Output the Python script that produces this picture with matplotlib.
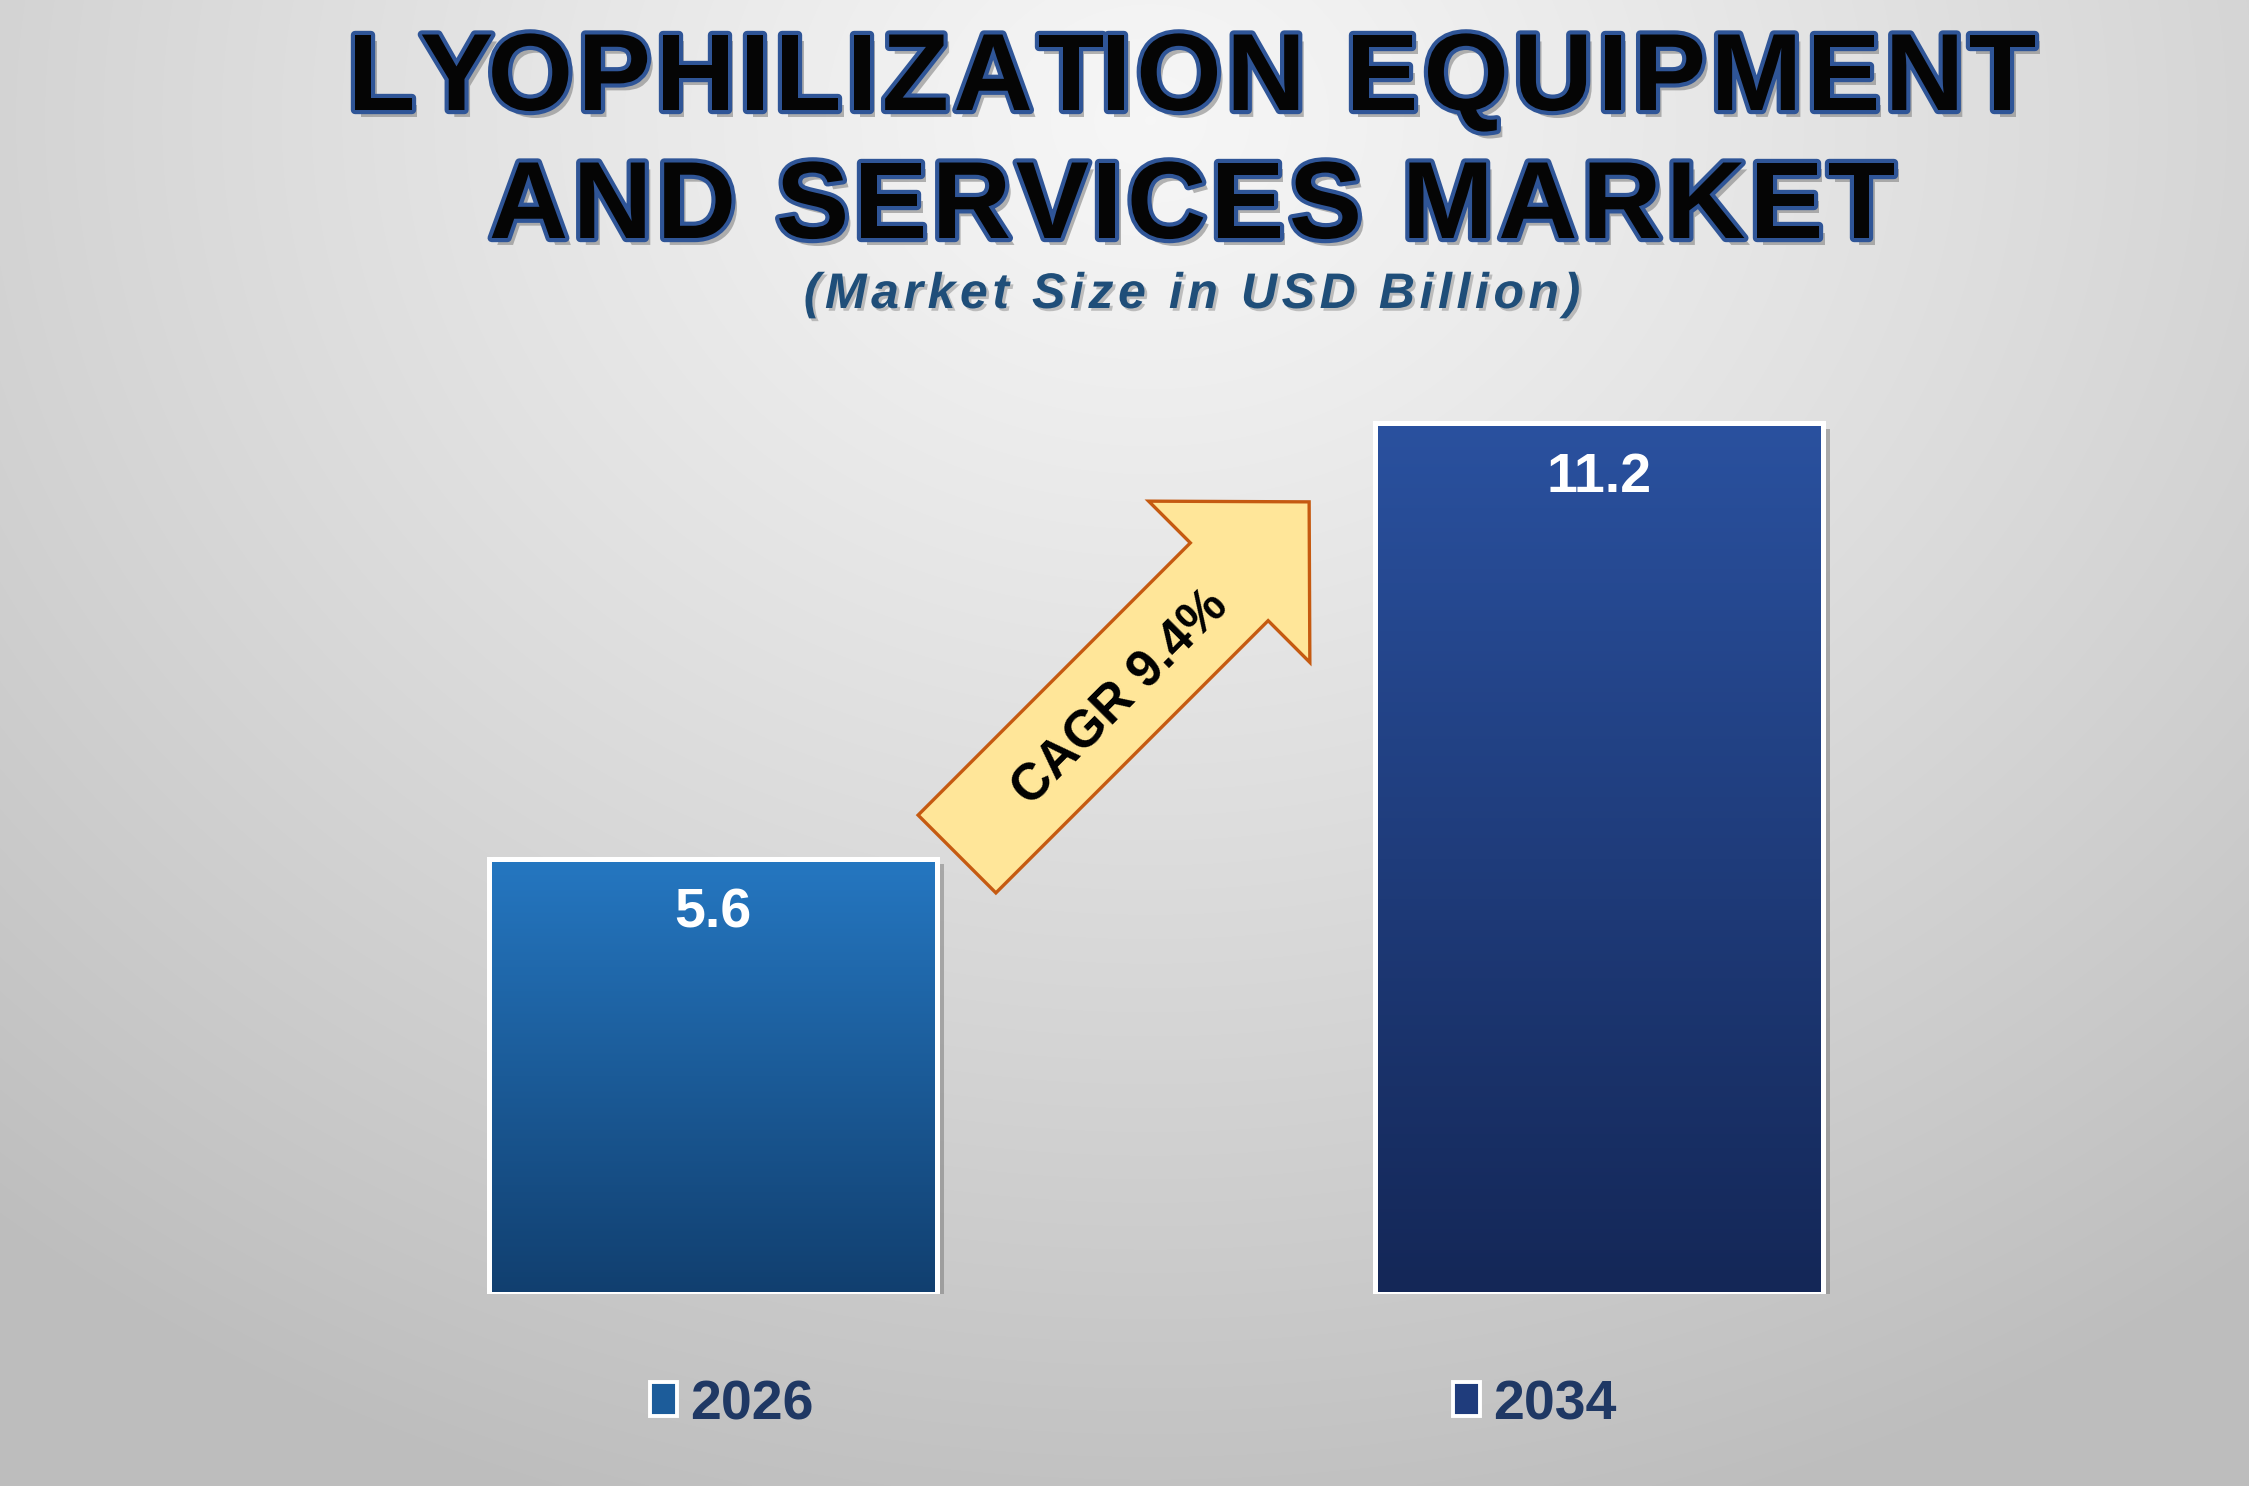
import numpy as np
import matplotlib
matplotlib.use('Agg')
import matplotlib.pyplot as plt
from matplotlib.patches import Polygon, Rectangle
from matplotlib.transforms import Affine2D
import matplotlib.patheffects as pe
from matplotlib.colors import LinearSegmentedColormap
from matplotlib.font_manager import FontProperties

# ---------------- data ----------------
years = ['2026', '2034']
values = [5.6, 11.2]
cagr_label = 'CAGR 9.4%'
title_lines = ['LYOPHILIZATION EQUIPMENT', 'AND SERVICES MARKET']
subtitle = '(Market Size in USD Billion)'

bar_top_colors = ['#2577C1', '#2A519F']
bar_bot_colors = ['#113F6F', '#142757']
bar_mid_colors = ['#1C5C9A', '#1F3C7C']

W, H = 2249, 1486
DPI = 100
FONT = 'Liberation Sans'
fig = plt.figure(figsize=(W / DPI, H / DPI), dpi=DPI)

# ---------------- background ----------------
bg = fig.add_axes([0, 0, 1, 1])
bg.axis('off')
yy, xx = np.mgrid[0:H, 0:W]
d = np.sqrt(((xx - 1150) / 1750.0) ** 2 + ((yy - 120) / 1450.0) ** 2)
d = np.clip(d, 0, 1)
v = 0.965 - (0.965 - 0.745) * d ** 1.15
bg.imshow(np.dstack([v, v, v]), extent=[0, 1, 0, 1], aspect='auto', zorder=0)
bg.set_xlim(0, 1)
bg.set_ylim(0, 1)

# ---------------- main axes ----------------
ax = fig.add_axes([270 / W, 1 - 1294 / H, 1772 / W, 0.628])
ax.set_facecolor('none')
ax.set_xlim(-0.5, 1.5)
ax.set_ylim(0, 12)
ax.axis('off')

x = np.arange(len(years))
bw = 0.505
shadow = [pe.SimplePatchShadow(offset=(5, -4), shadow_rgbFace='#6a6a6a', alpha=0.45), pe.Normal()]
bars = ax.bar(x, values, width=bw, color=bar_mid_colors, edgecolor='white',
              linewidth=3.6, zorder=2)
for b in bars:
    b.set_path_effects(shadow)

for b, ct, cb in zip(bars, bar_top_colors, bar_bot_colors):
    cmap = LinearSegmentedColormap.from_list('g', [cb, ct])
    grad = np.linspace(0, 1, 256).reshape(-1, 1)
    x0, w, h = b.get_x(), b.get_width(), b.get_height()
    im = ax.imshow(grad, extent=[x0, x0 + w, 0, h], origin='lower', aspect='auto',
                   cmap=cmap, zorder=2.5)
    im.set_clip_path(b)

ax.bar(x, values, width=bw, fill=False, edgecolor='white', linewidth=3.6, zorder=3)

for xi, val in zip(x, values):
    ax.annotate(f'{val}', xy=(xi, val), xytext=(0, -39.5), textcoords='offset points',
                ha='center', va='center', color='white', fontsize=40,
                fontweight='bold', family=FONT, zorder=4)

# ---------------- spaced text helper ----------------
renderer = fig.canvas.get_renderer()


def spaced_text(s, cx, ybase, prop, sp, color, effects):
    def tw(t):
        w, _, _ = renderer.get_text_width_height_descent(t, prop, ismath=False)
        return w
    ref = tw('|')
    pos = [0.0]
    for i in range(1, len(s)):
        pos.append(tw(s[:i] + '|') - ref + i * sp)
    total = pos[-1] + tw(s[-1])
    start = cx - total / 2
    for ch, p in zip(s, pos):
        if ch == ' ':
            continue
        fig.text((start + p) / W, 1 - ybase / H, ch, ha='left', va='baseline',
                 fontproperties=prop, color=color, path_effects=effects)


# ---------------- titles ----------------
title_fx = [pe.SimplePatchShadow(offset=(4, -5), shadow_rgbFace='#7a7a7a', alpha=0.55),
            pe.Stroke(linewidth=6, foreground='#2F5597'), pe.Normal()]
tprop = FontProperties(family=FONT, weight='bold', size=79)
for line, ybase in zip(title_lines, [110, 238]):
    spaced_text(line, 1192, ybase, tprop, 4.7, '#050505', title_fx)

sprop = FontProperties(family=FONT, weight='bold', style='italic', size=36)
sub_fx = [pe.SimplePatchShadow(offset=(2, -2), shadow_rgbFace='#8a8a8a', alpha=0.5), pe.Normal()]
spaced_text(subtitle, 1192, 308, sprop, 4.6, '#1F4E79', sub_fx)

# ---------------- CAGR arrow ----------------
L, hw, HW, HL = 385, 55, 114, 113
pts = [(0, -hw), (L, -hw), (L, -HW), (L + HL, 0), (L, HW), (L, hw), (0, hw)]
tr = Affine2D().rotate_deg(45).translate(957, H - 854)
arrow = Polygon(pts, closed=True, transform=tr, facecolor='#FFE699',
                edgecolor='#C55A11', linewidth=2.4, joinstyle='miter', zorder=5)
fig.add_artist(arrow)
tx, ty = tr.transform((226, -6))
fig.text(tx / W, ty / H, cagr_label, rotation=45, rotation_mode='anchor',
         ha='center', va='center', fontsize=37, fontweight='bold', family=FONT,
         color='black', zorder=6)

# ---------------- legend ----------------
handles = [Rectangle((0, 0), 1, 1, facecolor=c, edgecolor='white', linewidth=2.8)
           for c in bar_mid_colors]
leg = fig.legend(handles, years, loc='center', bbox_to_anchor=(1133 / W, 1 - 1405 / H),
                 ncol=2, frameon=False,
                 prop=dict(family=FONT, weight='bold', size=40),
                 handlelength=0.5, handleheight=0.57, handletextpad=0.23,
                 columnspacing=11.5)
for t in leg.get_texts():
    t.set_color('#1F3864')

fig.savefig('out.png', dpi=DPI)
